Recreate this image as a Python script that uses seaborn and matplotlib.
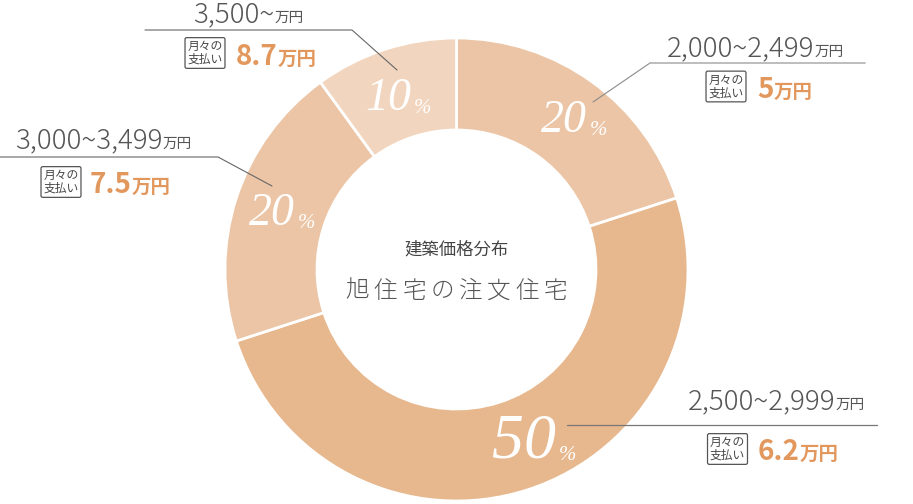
import matplotlib
matplotlib.use("Agg")
import matplotlib.pyplot as plt
import seaborn as sns

sns.set_theme(style="white")
plt.rcParams['font.family'] = ['Noto Sans CJK JP', 'DejaVu Sans']

# ---- data ----
ranges = ["2,000~2,499", "2,500~2,999", "3,000~3,499", "3,500~"]
shares = [20, 50, 20, 10]
monthly = ["5", "6.2", "7.5", "8.7"]
unit = "万円"
box_label = "月々の\n支払い"
center_top = "建築価格分布"
center_main = "旭住宅の注文住宅"
colors = ["#ebc5a5", "#e7b78e", "#ebc5a5", "#f1d5be"]

ORANGE = "#e2975d"
GREY = "#555555"

W, H = 913, 504
fig = plt.figure(figsize=(W / 100, H / 100), dpi=100)
ax = fig.add_axes([0, 0, 1, 1])
cx, cy, R, ring = 456.5, 269.5, 231.5, 92

ax.pie(shares, colors=colors, center=(cx, cy), radius=R, startangle=270,
       counterclock=True,
       wedgeprops=dict(width=ring, edgecolor="white", linewidth=2.0))
ax.set_xlim(0, W)
ax.set_ylim(H, 0)
ax.set_aspect("auto")
ax.axis("off")

renderer = fig.canvas.get_renderer()


def seq(x0, y, parts):
    x = x0
    for s, kw in parts:
        t = ax.text(x, y, s, ha="left", va="baseline", **kw)
        x += t.get_window_extent(renderer=renderer).width


# percent labels (number right edge, baseline) inside ring
pct_pos = [(587, 132, 33), (556, 457, 46), (295, 225, 33), (411, 110, 33)]
for (x, y, fs), p in zip(pct_pos, shares):
    ax.text(x, y, str(p), ha="right", va="baseline", color="white",
            family="Liberation Serif", style="italic", fontsize=fs)
    ax.text(x + 3, y + 3, "%", ha="left", va="baseline", color="white",
            family="Liberation Serif", style="italic", fontsize=15)

# leader lines
ax.plot([593, 650], [102, 63], color="#8a8a8a", lw=0.8)
ax.plot([650, 865], [63, 63], color="#b8b8b8", lw=1.3)
ax.plot([567, 877], [425, 425], color="#777777", lw=0.9)
ax.plot([0, 218, 272], [157, 157, 186], color="#666666", lw=0.8)
ax.plot([145, 352, 397], [30, 30, 70], color="#666666", lw=0.8)

# label layout: range text left, baseline ; box centre ; value left, baseline
layout = [
    ((667, 56), (726, 86.5), (757, 98)),
    ((688, 409), (727.5, 449), (758, 460)),
    ((15, 148), (61, 182), (90, 193)),
    ((193, 22), (205, 53), (236, 65)),
]

for (rpos, bpos, vpos), rng, val in zip(layout, ranges, monthly):
    seq(rpos[0], rpos[1], [
        (rng, dict(fontsize=20, color=GREY, fontweight="light")),
        (unit, dict(fontsize=10.5, color=GREY)),
    ])
    ax.text(bpos[0], bpos[1], box_label, ha="center", va="center",
            fontsize=8.5, color="#444444", linespacing=1.0,
            bbox=dict(boxstyle="round,pad=0.2,rounding_size=0.15",
                      fc="white", ec="#555555", lw=0.9))
    seq(vpos[0], vpos[1], [
        (val, dict(fontsize=20, color=ORANGE, fontweight="bold")),
        (unit, dict(fontsize=14, color=ORANGE, fontweight="bold")),
    ])

# centre texts
ax.text(cx, 249, center_top, ha="center", va="center", fontsize=12.5,
        color="#444444")
n = len(center_main)
pitch = 28.3
for i, ch in enumerate(center_main):
    ax.text(cx + (i - (n - 1) / 2) * pitch, 291, ch, ha="center",
            va="center", fontsize=17, color="#555555", fontweight="light")

fig.savefig("out.png", dpi=100, facecolor="white")
